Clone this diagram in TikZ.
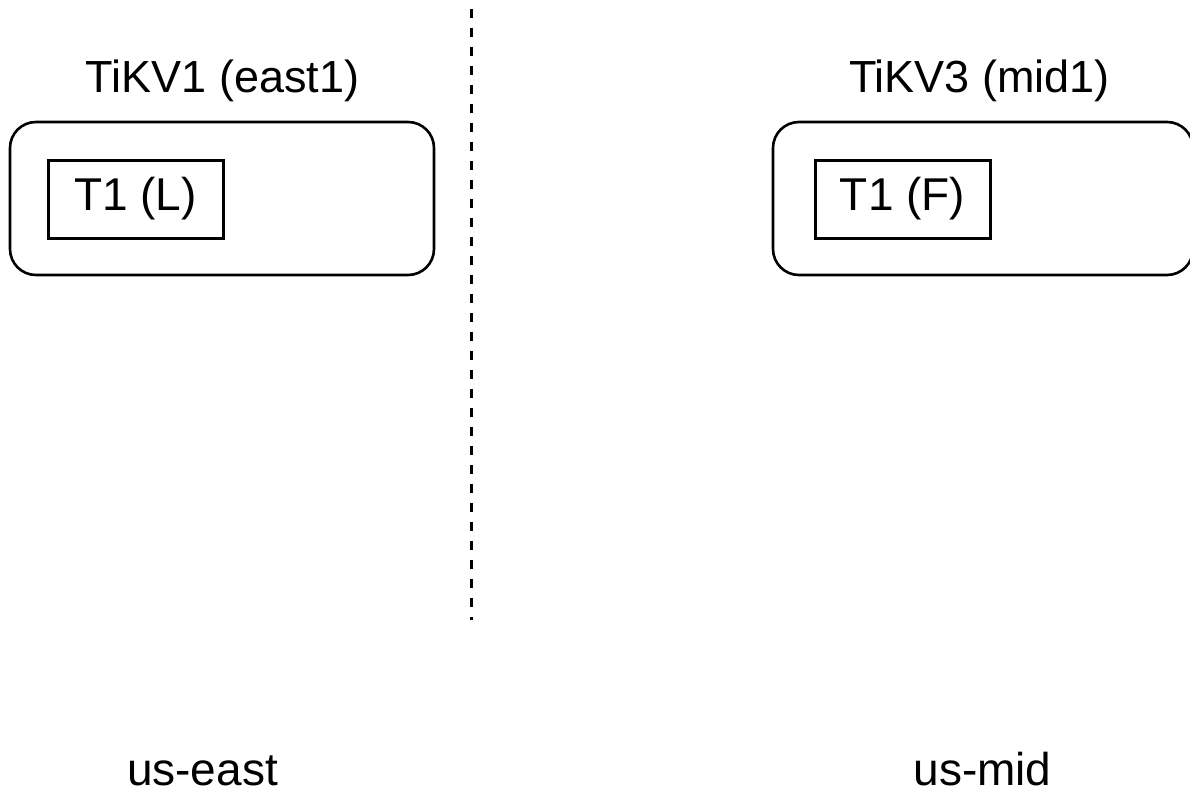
\documentclass[tikz,border=0pt]{standalone}
\usepackage{fontspec}
\setmainfont{Liberation Sans}
\begin{document}
\begin{tikzpicture}[x=1pt,y=-1pt,
  outerbox/.style={draw=black,line width=2.6pt,rounded corners=26pt,minimum width=#1,minimum height=153pt,inner sep=0pt},
  innerbox/.style={draw=black,line width=3pt,minimum width=175pt,minimum height=78pt,inner sep=0pt,font=\fontsize{46}{52}\selectfont},
  title/.style={font=\fontsize{45}{52}\selectfont,anchor=base},
  region/.style={font=\fontsize{46}{52}\selectfont,anchor=base},
  divider/.style={line width=3pt,dash pattern=on 9pt off 10pt}]
\useasboundingbox (0,0) rectangle (1190,792);
\fill[white] (0,0) rectangle (1190,792);
% left
\node[outerbox=424pt] (east) at (222,198.5) {};
\node[innerbox] (t1l) at (135.5,199) {T1 (L)};
\node[title] (tikv1) at (222.5,92) {TiKV1 (east1)};
% right
\node[outerbox=420pt] (mid) at (983,198.5) {};
\node[innerbox] (t1f) at (902.5,199) {T1 (F)};
\node[title] (tikv3) at (979.5,92) {TiKV3 (mid1)};
% divider
\coordinate (dtop) at (471,9);
\coordinate (dbot) at (471,620);
\draw[divider] (dtop) -- (dbot);
% regions
\node[region] (useast) at (202.5,785) {us-east};
\node[region] (usmid) at (982.5,785) {us-mid};
\end{tikzpicture}
\end{document}
